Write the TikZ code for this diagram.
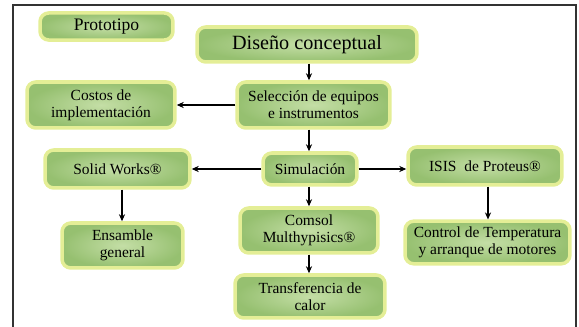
\documentclass[tikz,border=0pt]{standalone}
\usepackage{fontspec}
\setmainfont{Liberation Serif}
\usepackage{tikz}
\usetikzlibrary{arrows.meta, calc, positioning}

\definecolor{boxlight}{RGB}{196,222,166}
\definecolor{boxdark}{RGB}{150,192,112}
\definecolor{glow}{RGB}{228,238,150}

\tikzset{
  box/.style={rounded corners=5pt, draw=glow, line width=2pt,
    inner color=boxlight, outer color=boxdark, align=center,
    font=\fontsize{8.8}{9.6}\selectfont, text=black},
  arr/.style={-{Stealth[length=4pt, width=3.5pt]}, line width=0.6pt}
}

\begin{document}
\begin{tikzpicture}[x=0.02cm, y=-0.02cm]
  \useasboundingbox (0,0) rectangle (579,327);
  % frame
  \draw[line width=0.8pt, black!80] (13,340) -- (13,5) -- (576,5) -- (576,340);
  % boxes
  \node[box, minimum width=2.66cm, minimum height=0.54cm, font=\fontsize{10}{11}\selectfont] (proto) at (106.5,26.5) {Prototipo};
  \node[box, minimum width=4.40cm, minimum height=0.70cm, font=\fontsize{11.5}{12}\selectfont] (dis) at (307,44.5) {Diseño conceptual};
  \node[box, minimum width=3.06cm, minimum height=0.92cm] (sel) at (313.5,105) {Selección de equipos\\e instrumentos};
  \node[box, minimum width=2.96cm, minimum height=0.92cm] (cost) at (101,105) {Costos de\\implementación};
  \node[box, minimum width=2.90cm, minimum height=0.76cm] (solid) at (117.5,169) {Solid Works®};
  \node[box, minimum width=1.88cm, minimum height=0.64cm] (sim) at (310,169) {Simulación};
  \node[box, minimum width=3.08cm, minimum height=0.76cm] (isis) at (485,166) {ISIS\ \ de Proteus®};
  \node[box, minimum width=2.76cm, minimum height=0.90cm] (coms) at (309,230.5) {Comsol\\Multhypisics®};
  \node[box, minimum width=3.00cm, minimum height=0.86cm] (trans) at (310,296.5) {Transferencia de\\calor};
  \node[box, minimum width=2.42cm, minimum height=0.90cm] (ens) at (122.5,245.5) {Ensamble\\general};
  \node[box, minimum width=3.30cm, minimum height=0.78cm] (ctrl) at (487.5,242.5) {Control de Temperatura\\y arranque de motores};
  % arrows
  \draw[arr] (dis.south -| 309,0) -- (sel.north -| 309,0);
  \draw[arr] (sel.west) -- (cost.east);
  \draw[arr] (sel.south -| 309,0) -- (sim.north -| 309,0);
  \draw[arr] (sim.west) -- (solid.east);
  \draw[arr] (sim.east) -- (sim.east -| isis.west);
  \draw[arr] (sim.south -| 309,0) -- (coms.north -| 309,0);
  \draw[arr] (coms.south -| 309,0) -- (trans.north -| 309,0);
  \draw[arr] (solid.south -| 122,0) -- (ens.north -| 122,0);
  \draw[arr] (isis.south -| 488,0) -- (ctrl.north -| 488,0);
\end{tikzpicture}
\end{document}
